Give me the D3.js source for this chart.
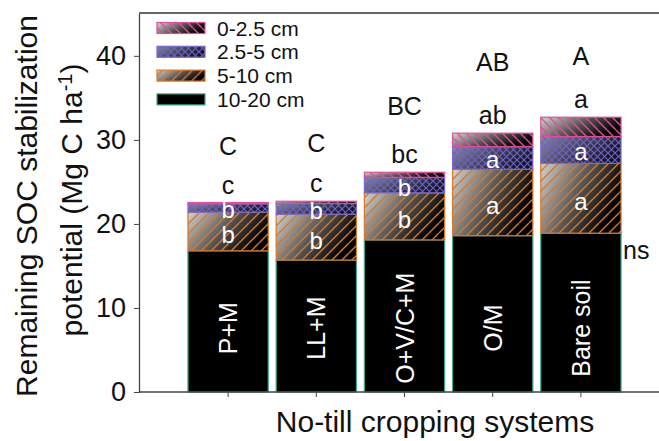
<!DOCTYPE html>
<html>
<head>
<meta charset="utf-8">
<script src="https://cdn.jsdelivr.net/npm/d3@7"></script>
<style>
  body { margin: 0; background: #fff; }
  text { font-family: "Liberation Sans", Arial, sans-serif; fill: #111; }
</style>
</head>
<body>
<div id="chart"></div>
<script>
// values (Mg C ha-1)
const systems = ["P+M", "LL+M", "O+V/C+M", "O/M", "Bare soil"];
const depths = ["10-20 cm", "5-10 cm", "2.5-5 cm", "0-2.5 cm"];   // bottom to top
const depth10_20 = [16.8, 15.7, 18.1, 18.6, 18.9];
const depth5_10 = [4.6, 5.45, 5.6, 7.9, 8.3];
const depth2_5_5 = [1.0, 1.3, 1.85, 2.7, 3.2];
const depth0_2_5 = [0.15, 0.25, 0.6, 1.6, 2.3];
const letters0_2_5 = ["c", "c", "bc", "ab", "a"];
const letters2_5_5 = ["b", "b", "b", "a", "a"];
const letters5_10 = ["b", "b", "b", "a", "a"];
const groupLetters = ["C", "C", "BC", "AB", "A"];
const groupLetterAt = [28.2, 28.6, 33.0, 38.2, 38.9];
const yTicks = [0, 10, 20, 30, 40];

let margin = { top: 13, left: 139, right: 0, bottom: 49 },
    width = 659 - margin.left - margin.right,
    height = 441 - margin.top - margin.bottom;

const rows = systems.map((s, i) => ({
    system: s,
    "10-20 cm": depth10_20[i],
    "5-10 cm": depth5_10[i],
    "2.5-5 cm": depth2_5_5[i],
    "0-2.5 cm": depth0_2_5[i]
}));
const stacked = d3.stack().keys(depths)(rows);

const svg = d3.select('#chart').append('svg')
    .attr('width', 659)
    .attr('height', 441);

// fills: gradient underneath, hatch pattern on top
const defs = svg.append('defs');
function gradient(id, c0, c1) {
    const g = defs.append('linearGradient').attr('id', id)
        .attr('x1', 0).attr('y1', 0).attr('x2', 1).attr('y2', 0.4);
    g.append('stop').attr('offset', 0).attr('stop-color', c0);
    g.append('stop').attr('offset', 0.55).attr('stop-color', d3.interpolateRgb(c0, c1)(0.6));
    g.append('stop').attr('offset', 1).attr('stop-color', c1);
}
gradient('gradGrey', '#d4d4d4', '#000');
gradient('gradBlue', '#8c8ca2', '#141428');

function hatch(id, size, paths, color, w) {
    const p = defs.append('pattern').attr('id', id)
        .attr('patternUnits', 'userSpaceOnUse')
        .attr('width', size).attr('height', size);
    paths.forEach(d => p.append('path').attr('d', d)
        .attr('stroke', color).attr('stroke-width', w).attr('fill', 'none'));
}
hatch('hPink', 9, ['M0,0 L9,9', 'M-9,0 L0,9', 'M0,-9 L9,0'], '#df4f98', 1.4);
hatch('hOrange', 10, ['M0,10 L10,0', 'M-10,10 L0,0', 'M0,20 L10,10'], '#d8782a', 1.4);
hatch('hBlue', 7, ['M0,0 L7,7', 'M0,7 L7,0'], '#6e62c4', 1.2);

const style = {
    "10-20 cm": { grad: null, hatch: null, stroke: '#3aa88c' },
    "5-10 cm": { grad: 'url(#gradGrey)', hatch: 'url(#hOrange)', stroke: '#d8782a' },
    "2.5-5 cm": { grad: 'url(#gradBlue)', hatch: 'url(#hBlue)', stroke: '#7c6cc8' },
    "0-2.5 cm": { grad: 'url(#gradGrey)', hatch: 'url(#hPink)', stroke: '#df4f98' }
};

const g = svg.append('g')
    .attr('transform', 'translate(' + margin.left + ',' + margin.top + ')');

let xScale = d3.scaleBand()
    .domain(systems)
    .range([45, 486])
    .paddingInner(0.09)
    .paddingOuter(0.045);

let yScale = d3.scaleLinear()
    .domain([0, 45.1])
    .range([height, 0]);

// bars
stacked.forEach(layer => {
    const st = style[layer.key];
    const lg = g.append('g');
    layer.forEach((d, i) => {
        const x = xScale(systems[i]),
            y = yScale(d[1]),
            h = yScale(d[0]) - yScale(d[1]);
        if (st.grad) {
            lg.append('rect').attr('x', x).attr('y', y)
                .attr('width', xScale.bandwidth()).attr('height', h)
                .attr('fill', st.grad);
            lg.append('rect').attr('x', x).attr('y', y)
                .attr('width', xScale.bandwidth()).attr('height', h)
                .attr('fill', st.hatch);
        } else {
            lg.append('rect').attr('x', x).attr('y', y)
                .attr('width', xScale.bandwidth()).attr('height', h)
                .attr('fill', '#000');
        }
        lg.append('rect').attr('x', x).attr('y', y)
            .attr('width', xScale.bandwidth()).attr('height', h)
            .attr('fill', 'none').attr('stroke', st.stroke).attr('stroke-width', 1.2);
    });
});

// letters inside the bars
const midOf = (layer, i) => yScale((stacked[layer][i][0] + stacked[layer][i][1]) / 2);
systems.forEach((s, i) => {
    const cx = xScale(s) + xScale.bandwidth() / 2;
    g.append('text').attr('x', cx).attr('y', midOf(1, i) + 3)
        .attr('text-anchor', 'middle').attr('dominant-baseline', 'central')
        .style('font-size', '24px').style('fill', '#fff').text(letters5_10[i]);
    g.append('text').attr('x', cx).attr('y', midOf(2, i) + 2)
        .attr('text-anchor', 'middle').attr('dominant-baseline', 'central')
        .style('font-size', '24px').style('fill', '#fff').text(letters2_5_5[i]);
    // top layer letter, above the bar
    g.append('text').attr('x', cx).attr('y', yScale(stacked[3][i][1]) - 9)
        .attr('text-anchor', 'middle')
        .style('font-size', '25px').text(letters0_2_5[i]);
    g.append('text').attr('x', cx).attr('y', yScale(groupLetterAt[i]))
        .attr('text-anchor', 'middle')
        .style('font-size', '25px').text(groupLetters[i]);
    // system name, rotated in the black part
    g.append('text')
        .attr('transform', 'translate(' + (cx + 9) + ',' + yScale(7.6) + ') rotate(-90)')
        .attr('text-anchor', 'middle')
        .style('font-size', '25px').style('fill', '#fff').text(s);
});

// ns for the 10-20 cm layer
const last = systems.length - 1;
g.append('text')
    .attr('x', xScale(systems[last]) + xScale.bandwidth() + 2)
    .attr('y', yScale(depth10_20[last]) + 26)
    .style('font-size', '25px').text('ns');

// axes
const yAxis = g.append('g')
    .call(d3.axisLeft(yScale).tickValues(yTicks).tickSize(5).tickSizeOuter(0).tickPadding(8));
yAxis.selectAll('text').style('font-size', '27px').style('fill', '#111')
    .style('font-family', '"Liberation Sans", Arial, sans-serif');
yAxis.select('.domain').attr('stroke', '#444').attr('stroke-width', 1.3);
yAxis.selectAll('.tick line').attr('stroke', '#444');

const xAxis = g.append('g')
    .attr('transform', 'translate(0,' + height + ')')
    .call(d3.axisBottom(xScale).tickSize(5).tickSizeOuter(0).tickFormat(''));
xAxis.select('.domain').remove();
xAxis.selectAll('.tick line').attr('stroke', '#444');
g.append('line').attr('x1', 0).attr('x2', width).attr('y1', height).attr('y2', height)
    .attr('stroke', '#444').attr('stroke-width', 1.3);
// top frame line
g.append('line').attr('x1', 0).attr('x2', width).attr('y1', 0).attr('y2', 0)
    .attr('stroke', '#666').attr('stroke-width', 2);

// axis titles
svg.append('text')
    .attr('x', 435).attr('y', 432)
    .attr('text-anchor', 'middle')
    .style('font-size', '30px')
    .text('No-till cropping systems');

svg.append('text')
    .attr('transform', 'translate(37,206) rotate(-90)')
    .attr('text-anchor', 'middle')
    .style('font-size', '30px')
    .text('Remaining SOC stabilization');
const yt2 = svg.append('text')
    .attr('transform', 'translate(82,200) rotate(-90)')
    .attr('text-anchor', 'middle')
    .style('font-size', '30px');
yt2.append('tspan').text('potential (Mg C ha');
yt2.append('tspan').attr('dy', -10).style('font-size', '20px').text('-1');
yt2.append('tspan').attr('dy', 10).text(')');

// legend
const legend = svg.append('g').attr('transform', 'translate(157,28)');
const legendOrder = ["0-2.5 cm", "2.5-5 cm", "5-10 cm", "10-20 cm"];
legendOrder.forEach((k, i) => {
    const st = style[k];
    const row = legend.append('g').attr('transform', 'translate(0,' + (i * 23.8) + ')');
    if (st.grad) {
        row.append('rect').attr('y', -5.5).attr('width', 48).attr('height', 11).attr('fill', st.grad);
        row.append('rect').attr('y', -5.5).attr('width', 48).attr('height', 11).attr('fill', st.hatch);
    } else {
        row.append('rect').attr('y', -5.5).attr('width', 48).attr('height', 11).attr('fill', '#000');
    }
    row.append('rect').attr('y', -5.5).attr('width', 48).attr('height', 11)
        .attr('fill', 'none').attr('stroke', st.stroke).attr('stroke-width', 1.2);
    row.append('text').attr('x', 60).attr('y', 0)
        .attr('dominant-baseline', 'central')
        .style('font-size', '21px').text(k);
});
</script>
</body>
</html>
